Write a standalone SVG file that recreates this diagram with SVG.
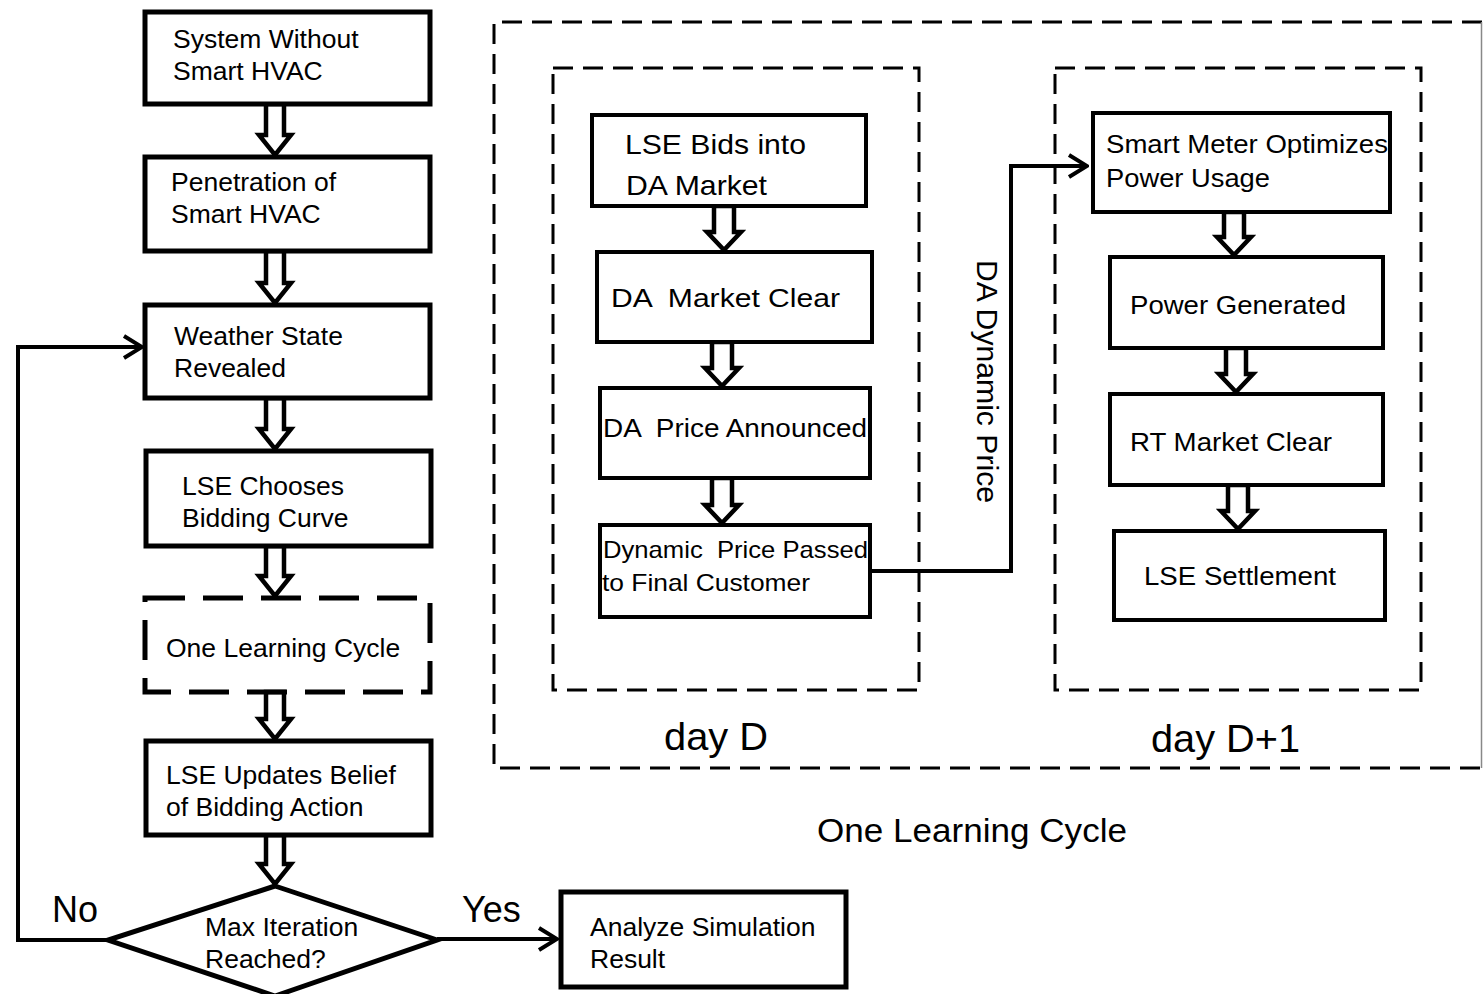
<svg xmlns="http://www.w3.org/2000/svg" width="1483" height="994" viewBox="0 0 1483 994">
  <defs>
    <style>
      text { font-family: "Liberation Sans", Arial, sans-serif; fill: #000; }
      .lbl { font-size: 26.5px; }
      .mid { font-size: 26px; }
      .box { fill: #fff; stroke: #000; stroke-width: 5; }
      .boxm { fill: #fff; stroke: #000; stroke-width: 4; }
      .dashbox { fill: none; stroke: #000; stroke-width: 5; stroke-dasharray: 40 18; }
      .frame { fill: none; stroke: #000; stroke-width: 3; stroke-dasharray: 20 10; }
      .hollow { fill: #fff; stroke: #000; stroke-width: 4.5; stroke-linejoin: miter; }
      .wire { fill: none; stroke: #000; stroke-width: 4; }
    </style>
    <marker id="open" viewBox="0 0 22 26" refX="20" refY="13" markerWidth="22" markerHeight="26" markerUnits="userSpaceOnUse" orient="auto">
      <path d="M2,2 L20,13 L2,24" fill="none" stroke="#000" stroke-width="4"/>
    </marker>
  </defs>

  <!-- dashed frames around the learning cycle -->
  <g id="frame-cycle">
    <path class="frame" d="M1482,22 H494 V768 H1482"/>
    <line x1="1481.5" y1="22" x2="1481.5" y2="768" stroke="#888" stroke-width="1.5"/>
  </g>
  <g id="frame-dayD">
    <rect class="frame" x="553" y="68" width="366" height="622"/>
  </g>
  <g id="frame-dayD1">
    <rect class="frame" x="1055" y="68" width="366" height="622"/>
  </g>

  <!-- connectors -->
  <g id="connectors">
    <!-- hollow block arrows, left column -->
    <polygon class="hollow" points="266,104 284,104 284,135 291,135 275,155 259,135 266,135"/>
    <polygon class="hollow" points="266,251 284,251 284,283 291,283 275,303 259,283 266,283"/>
    <polygon class="hollow" points="266,398 284,398 284,429 291,429 275,449 259,429 266,429"/>
    <polygon class="hollow" points="266,546 284,546 284,576 291,576 275,596 259,576 266,576"/>
    <polygon class="hollow" points="266,692 284,692 284,719 291,719 275,739 259,719 266,719"/>
    <polygon class="hollow" points="266,835 284,835 284,864 291,864 275,884 259,864 266,864"/>
    <!-- hollow block arrows, day D -->
    <polygon class="hollow" points="714,206 734,206 734,232 741,232 724,250 707,232 714,232"/>
    <polygon class="hollow" points="712,342 732,342 732,368 739,368 722,386 705,368 712,368"/>
    <polygon class="hollow" points="712,478 732,478 732,505 739,505 722,523 705,505 712,505"/>
    <!-- hollow block arrows, day D+1 -->
    <polygon class="hollow" points="1224,212 1244,212 1244,237 1251,237 1234,255 1217,237 1224,237"/>
    <polygon class="hollow" points="1226,348 1246,348 1246,374 1253,374 1236,392 1219,374 1226,374"/>
    <polygon class="hollow" points="1228,485 1248,485 1248,511 1255,511 1238,529 1221,511 1228,511"/>
    <!-- loop back, exit and price signal -->
    <path class="wire" d="M108,940 H18 V347 H142" marker-end="url(#open)"/>
    <path class="wire" d="M437,939 H557" marker-end="url(#open)"/>
    <path class="wire" stroke-width="3.5" d="M870,571 H1011 V166 H1087" marker-end="url(#open)"/>
  </g>

  <!-- left column -->
  <g id="n-system">
    <rect class="box" x="145" y="12" width="285" height="92"/>
    <text class="lbl" x="173" y="48">System Without</text>
    <text class="lbl" x="173" y="80">Smart HVAC</text>
  </g>
  <g id="n-penetration">
    <rect class="box" x="145" y="157" width="285" height="94"/>
    <text class="lbl" x="171" y="191">Penetration of</text>
    <text class="lbl" x="171" y="223">Smart HVAC</text>
  </g>
  <g id="n-weather">
    <rect class="box" x="145" y="305" width="285" height="93"/>
    <text class="lbl" x="174" y="345">Weather State</text>
    <text class="lbl" x="174" y="377">Revealed</text>
  </g>
  <g id="n-choose">
    <rect class="box" x="146" y="451" width="285" height="95"/>
    <text class="lbl" x="182" y="495">LSE Chooses</text>
    <text class="lbl" x="182" y="527">Bidding Curve</text>
  </g>
  <g id="n-cycle">
    <rect class="dashbox" x="145" y="598" width="285" height="94"/>
    <text class="lbl" x="166" y="657">One Learning Cycle</text>
  </g>
  <g id="n-update">
    <rect class="box" x="146" y="741" width="285" height="94"/>
    <text class="lbl" x="166" y="784">LSE Updates Belief</text>
    <text class="lbl" x="166" y="816">of Bidding Action</text>
  </g>
  <g id="n-decision">
    <polygon class="box" points="275,886 437,940 275,996 108,940"/>
    <text class="lbl" x="205" y="936">Max Iteration</text>
    <text class="lbl" x="205" y="968">Reached?</text>
    <text x="52" y="922" font-size="36">No</text>
    <text x="462" y="922" font-size="36">Yes</text>
  </g>
  <g id="n-analyze">
    <rect class="box" x="561" y="892" width="285" height="95"/>
    <text class="lbl" x="590" y="936">Analyze Simulation</text>
    <text class="lbl" x="590" y="968">Result</text>
  </g>

  <!-- day D -->
  <g id="n-bids">
    <rect class="boxm" x="592" y="115" width="274" height="91"/>
    <text x="625" y="154" font-size="28" textLength="181" lengthAdjust="spacingAndGlyphs">LSE Bids into</text>
    <text x="626" y="195" font-size="28" textLength="141" lengthAdjust="spacingAndGlyphs">DA Market</text>
  </g>
  <g id="n-daclear">
    <rect class="boxm" x="597" y="252" width="275" height="90"/>
    <text class="mid" x="611" y="307" textLength="229" lengthAdjust="spacingAndGlyphs" xml:space="preserve">DA  Market Clear</text>
  </g>
  <g id="n-daprice">
    <rect class="boxm" x="600" y="388" width="270" height="90"/>
    <text class="mid" x="603" y="437" textLength="264" lengthAdjust="spacingAndGlyphs" xml:space="preserve">DA  Price Announced</text>
  </g>
  <g id="n-passed">
    <rect class="boxm" x="600" y="525" width="270" height="92"/>
    <text x="603" y="558" font-size="24" textLength="265" lengthAdjust="spacingAndGlyphs" xml:space="preserve">Dynamic  Price Passed</text>
    <text x="602" y="591" font-size="24" textLength="208" lengthAdjust="spacingAndGlyphs">to Final Customer</text>
  </g>
  <text x="0" y="0" font-size="30" textLength="243" lengthAdjust="spacingAndGlyphs" transform="translate(977,260) rotate(90)">DA Dynamic Price</text>

  <!-- day D+1 -->
  <g id="n-meter">
    <rect class="boxm" x="1093" y="113" width="297" height="99"/>
    <text class="mid" x="1106" y="153" textLength="282" lengthAdjust="spacingAndGlyphs">Smart Meter Optimizes</text>
    <text class="mid" x="1106" y="187" textLength="164" lengthAdjust="spacingAndGlyphs">Power Usage</text>
  </g>
  <g id="n-generated">
    <rect class="boxm" x="1110" y="257" width="273" height="91"/>
    <text class="mid" x="1130" y="314" textLength="216" lengthAdjust="spacingAndGlyphs">Power Generated</text>
  </g>
  <g id="n-rtclear">
    <rect class="boxm" x="1110" y="394" width="273" height="91"/>
    <text class="mid" x="1130" y="451" textLength="202" lengthAdjust="spacingAndGlyphs">RT Market Clear</text>
  </g>
  <g id="n-settle">
    <rect class="boxm" x="1114" y="531" width="271" height="89"/>
    <text class="mid" x="1144" y="585" textLength="192" lengthAdjust="spacingAndGlyphs">LSE Settlement</text>
  </g>

  <!-- frame captions -->
  <text x="664" y="750" font-size="39" textLength="104" lengthAdjust="spacingAndGlyphs">day D</text>
  <text x="1151" y="752" font-size="39" textLength="149" lengthAdjust="spacingAndGlyphs">day D+1</text>
  <text x="817" y="842" font-size="34" textLength="310" lengthAdjust="spacingAndGlyphs">One Learning Cycle</text>
</svg>
